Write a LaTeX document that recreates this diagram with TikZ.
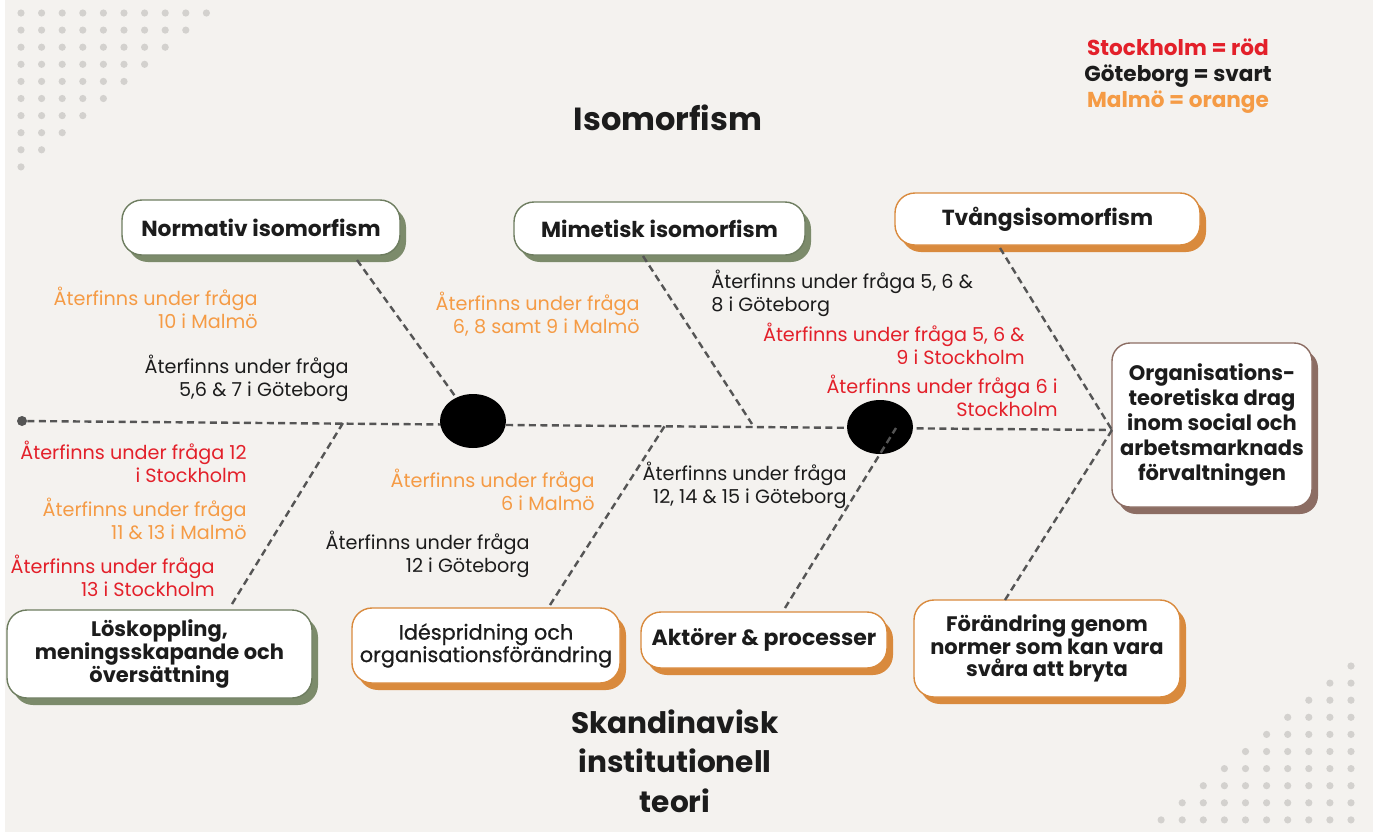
\documentclass[tikz,border=0pt]{standalone}
\usepackage{fontspec}
\setmainfont{Poppins}
\newfontface\medfont{Poppins}[FakeBold=0.8]
\usetikzlibrary{shadows,calc,shapes.geometric}
\definecolor{bg}{HTML}{F4F2EF}
\definecolor{dotc}{HTML}{D3D1CE}
\definecolor{lred}{HTML}{E3202A}
\definecolor{lorange}{HTML}{F59B45}
\definecolor{ltext}{HTML}{1C1C1C}
\definecolor{dashc}{HTML}{555555}
\definecolor{grn}{HTML}{7C8B6B}
\definecolor{grnb}{HTML}{6E7D60}
\definecolor{org}{HTML}{D98A3D}
\definecolor{brn}{HTML}{8C6D63}
\tikzset{
  lab/.style={font=\fontsize{9.6}{11.5}\selectfont, inner sep=0pt, align=right, anchor=east},
  labl/.style={font=\fontsize{9.6}{11.5}\selectfont, inner sep=0pt, align=left, anchor=west},
  boxbase/.style={rounded corners=10pt, fill=white, line width=0.7pt, align=center, inner sep=0pt,
     font=\bfseries\fontsize{10.9}{11.5}\selectfont, text=ltext},
  multi/.style={font=\bfseries\fontsize{10.5}{11.4}\selectfont},
  gbox/.style={boxbase, draw=grnb, general shadow={fill=grn, shadow xshift=3pt, shadow yshift=-3.5pt}},
  obox/.style={boxbase, draw=org, general shadow={fill=org, shadow xshift=3pt, shadow yshift=-3.5pt}},
  bbox/.style={boxbase, rounded corners=9pt, draw=brn, general shadow={fill=brn, shadow xshift=3pt, shadow yshift=-3.5pt}},
  fishline/.style={draw=dashc, line width=1.2pt, dash pattern=on 3.5pt off 2.2pt},
  blob/.style={ellipse, fill=black, minimum width=33pt, minimum height=27pt, inner sep=0pt},
  heading/.style={font=\bfseries\fontsize{16}{20}\selectfont, text=ltext, align=center},
}
\begin{document}
\begin{tikzpicture}[x=0.5pt,y=-0.5pt]
\useasboundingbox (0,0) rectangle (1373,836);
\fill[white] (0,0) rectangle (1373,836);
\fill[bg] (5,0) rectangle (1373,832);
% dots
\foreach \r in {0,...,9}{
  \pgfmathtruncatemacro\n{9-\r}
  \foreach \c in {0,...,\n}{\fill[dotc] (21+20.6*\c,13+17.1*\r) circle[radius=3.6];}
}
\foreach \r in {0,...,9}{
  \foreach \c in {0,...,\r}{\fill[dotc] (1351-21.1*\c,666+17.1*\r) circle[radius=3.6];}
}
% headings
\node[heading] (iso) at (668,118) {Isomorfism};
\node[heading, font=\bfseries\fontsize{14.8}{19.8}\selectfont] (ski) at (675,761) {Skandinavisk\\institutionell\\teori};
\node[font=\bfseries\fontsize{10.8}{13}\selectfont, align=center, inner sep=0pt] (leg) at (1178,76)
  {\textcolor{lred}{Stockholm = röd}\\\textcolor{ltext}{Göteborg = svart}\\\textcolor{lorange}{Malmö = orange}};
% boxes
\node[gbox, minimum width=139pt, minimum height=27.5pt] (norm) at (261,227.5) {Normativ isomorfism};
\node[gbox, minimum width=145.5pt, minimum height=26.5pt] (mim) at (659.5,228.5) {Mimetisk isomorfism};
\node[obox, minimum width=152.5pt, minimum height=26pt] (tvang) at (1047.5,219) {Tvångsisomorfism};
\node[bbox, multi, font=\bfseries\fontsize{10.5}{12.4}\selectfont, minimum width=100pt, minimum height=82pt] (orgbox) at (1212,425)
  {Organisations-\\teoretiska drag\\inom social och\\arbetsmarknads\\förvaltningen};
\node[gbox, multi, minimum width=152.5pt, minimum height=44pt] (los) at (159.5,654)
  {Löskoppling,\\meningsskapande och\\översättning};
\node[obox, font=\medfont\fontsize{10.4}{11.2}\selectfont, minimum width=134pt, minimum height=37.5pt] (ide) at (486,645.5)
  {Idéspridning och\\organisationsförändring};
\node[obox, font=\bfseries\fontsize{11}{12}\selectfont, minimum width=123pt, minimum height=28pt] (akt) at (764,640) {Aktörer \& processer};
\node[obox, multi, minimum width=133pt, minimum height=48.5pt] (forand) at (1047,648.5)
  {Förändring genom\\normer som kan vara\\svåra att bryta};
% spine
\node[circle, fill=dashc, minimum size=5pt, inner sep=0pt] (start) at (22,421) {};
\coordinate (j1) at (343,423);
\coordinate (j2) at (666,424);
\coordinate (j3) at (752,424);
\coordinate (spEnd) at (1112,430);
\draw[fishline] (start) -- (spEnd);
% branch coordinates
\coordinate (bn) at (357,260);
\coordinate (bm) at (643,256);
\coordinate (bt) at (1000,248);
\coordinate (bl) at (232,604);
\coordinate (bi) at (550,605);
\coordinate (ba) at (785,608);
\coordinate (bf) at (1005,600);
\coordinate (ea) at (896,428);
\node[blob] (e1) at (473,421) {};
\node[blob] (e2) at (880,427) {};
\draw[fishline] (bn) -- (e1);
\draw[fishline] (bm) -- (j3);
\draw[fishline] (bt) -- (spEnd);
\draw[fishline] (bl) -- (j1);
\draw[fishline] (bi) -- (j2);
\draw[fishline] (ba) -- (ea);
\draw[fishline] (bf) -- (spEnd);
% labels
\node[lab, text=lorange] (l1) at (258,308) {Återfinns under fråga\\10 i Malmö};
\node[lab, text=ltext] (l2) at (349,378) {Återfinns under fråga\\5,6 \& 7 i Göteborg};
\node[lab, text=lorange] (l3) at (640,314) {Återfinns under fråga\\6, 8 samt 9 i Malmö};
\node[labl, text=ltext] (l4) at (711,293) {Återfinns under fråga 5, 6 \&\\8 i Göteborg};
\node[lab, text=lred] (l5) at (1025,344) {Återfinns under fråga 5, 6 \&\\9 i Stockholm};
\node[lab, text=lred] (l6) at (1058,396) {Återfinns under fråga 6 i\\Stockholm};
\node[lab, text=ltext] (l7) at (847,485) {Återfinns under fråga\\12, 14 \& 15 i Göteborg};
\node[lab, text=lred] (l8) at (247,462) {Återfinns under fråga 12\\i Stockholm};
\node[lab, text=lorange] (l9) at (247,519) {Återfinns under fråga\\11 \& 13 i Malmö};
\node[lab, text=lred] (l10) at (215,576) {Återfinns under fråga\\13 i Stockholm};
\node[lab, text=lorange] (l11) at (595,490) {Återfinns under fråga\\6 i Malmö};
\node[lab, text=ltext] (l12) at (530,554) {Återfinns under fråga\\12 i Göteborg};
\end{tikzpicture}
\end{document}
